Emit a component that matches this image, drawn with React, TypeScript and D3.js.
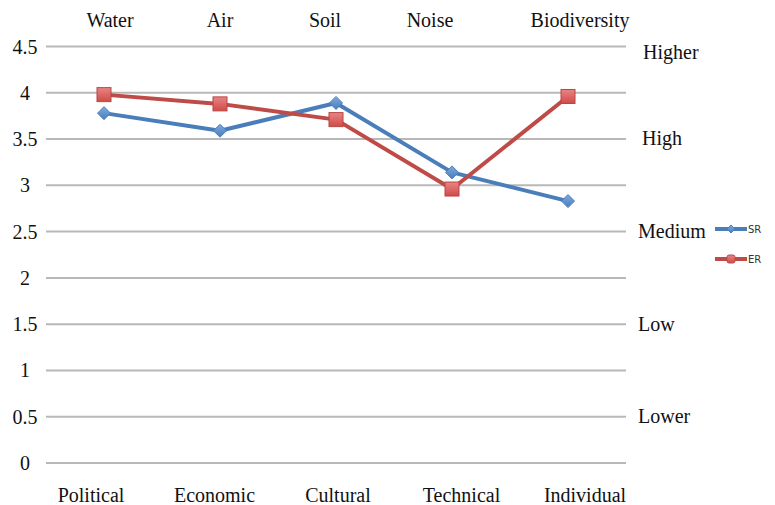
import React from "react";
import * as d3 from "d3";

const topCategories = ["Water", "Air", "Soil", "Noise", "Biodiversity"];
const bottomCategories = ["Political", "Economic", "Cultural", "Technical", "Individual"];
const srValues = [3.78, 3.59, 3.89, 3.14, 2.83];
const erValues = [3.98, 3.88, 3.71, 2.96, 3.96];
const yTicks = [0, 0.5, 1, 1.5, 2, 2.5, 3, 3.5, 4, 4.5];
const levelLabels = ["Higher", "High", "Medium", "Low", "Lower"];
const levelValues = [4.43, 3.5, 2.5, 1.5, 0.5];

// layout constants (label placement in the source is slightly irregular)
const topLabelShift = [6, 0, -11, -22, 12];
const levelLabelX = [643, 642, 638, 638, 638];

const W = 775;
const H = 505;
const left = 46;
const right = 626;
const top = 46.5;
const bottom = 463;

const BLUE = "#4a7ebb";
const RED = "#be4b48";
const FONT = "'Liberation Serif', 'Times New Roman', serif";

export default function App() {
  const x = d3.scalePoint<number>().domain(d3.range(5)).range([left, right]).padding(0.5);
  const xBottom = d3.scalePoint<number>().domain(d3.range(5)).range([91, 585]);
  const y = d3.scaleLinear().domain([0, 4.5]).range([bottom, top]);
  const line = d3
    .line<number>()
    .x((_, i) => x(i) as number)
    .y((d) => y(d));

  const diamond = (cx: number, cy: number, r: number) =>
    `M${cx},${cy - r}L${cx + r},${cy}L${cx},${cy + r}L${cx - r},${cy}Z`;

  return (
    <svg
      width={W}
      height={H}
      style={{ position: "absolute", left: 0, top: 0, background: "#fff" }}
    >
      <defs>
        <linearGradient id="redG" x1="0" y1="0" x2="0" y2="1">
          <stop offset="0" stopColor="#e88583" />
          <stop offset="1" stopColor="#d04b48" />
        </linearGradient>
        <linearGradient id="blueG" x1="0" y1="0" x2="0" y2="1">
          <stop offset="0" stopColor="#7fa9e0" />
          <stop offset="1" stopColor="#4a7ebb" />
        </linearGradient>
      </defs>
      {yTicks.map((t) => (
        <g key={t}>
          <line x1={left} x2={right} y1={y(t)} y2={y(t)} stroke="#b8b8b8" strokeWidth={2} />
          <text
            x={25}
            y={y(t)}
            dy="0.35em"
            textAnchor="middle"
            fontFamily={FONT}
            fontSize={20}
            fill="#111"
          >
            {t}
          </text>
        </g>
      ))}
      {topCategories.map((c, i) => (
        <text
          key={c}
          x={(x(i) as number) + topLabelShift[i]}
          y={27}
          textAnchor="middle"
          fontFamily={FONT}
          fontSize={20}
          fill="#111"
        >
          {c}
        </text>
      ))}
      {bottomCategories.map((c, i) => (
        <text
          key={c}
          x={xBottom(i) as number}
          y={502}
          textAnchor="middle"
          fontFamily={FONT}
          fontSize={20}
          fill="#111"
        >
          {c}
        </text>
      ))}
      {levelLabels.map((l, i) => (
        <text
          key={l}
          x={levelLabelX[i]}
          y={y(levelValues[i])}
          dy="0.32em"
          fontFamily={FONT}
          fontSize={20}
          fill="#111"
        >
          {l}
        </text>
      ))}
      <path d={line(srValues) || ""} fill="none" stroke={BLUE} strokeWidth={4} strokeLinejoin="round" />
      <path d={line(erValues) || ""} fill="none" stroke={RED} strokeWidth={4} strokeLinejoin="round" />
      {srValues.map((v, i) => (
        <path
          key={"s" + i}
          d={diamond(x(i) as number, y(v), 6.5)}
          fill="url(#blueG)"
          stroke="#4a7ebb"
          strokeWidth={1}
        />
      ))}
      {erValues.map((v, i) => (
        <rect
          key={"e" + i}
          x={(x(i) as number) - 7}
          y={y(v) - 7}
          width={14}
          height={14}
          fill="url(#redG)"
          stroke="#b84744"
          strokeWidth={1}
        />
      ))}
      <g>
        <line x1={715} x2={747} y1={229} y2={229} stroke={BLUE} strokeWidth={4} />
        <path d={diamond(731, 229, 4)} fill="url(#blueG)" stroke={BLUE} strokeWidth={1} />
        <text x={748} y={229} dy="0.35em" fontFamily="'DejaVu Sans', sans-serif" fontSize={10} fill="#333">
          SR
        </text>
        <line x1={715} x2={747} y1={259} y2={259} stroke={RED} strokeWidth={4} />
        <rect x={727} y={255} width={8} height={8} rx={2} fill="url(#redG)" stroke={RED} strokeWidth={1} />
        <text x={748} y={259} dy="0.35em" fontFamily="'DejaVu Sans', sans-serif" fontSize={10} fill="#333">
          ER
        </text>
      </g>
    </svg>
  );
}
